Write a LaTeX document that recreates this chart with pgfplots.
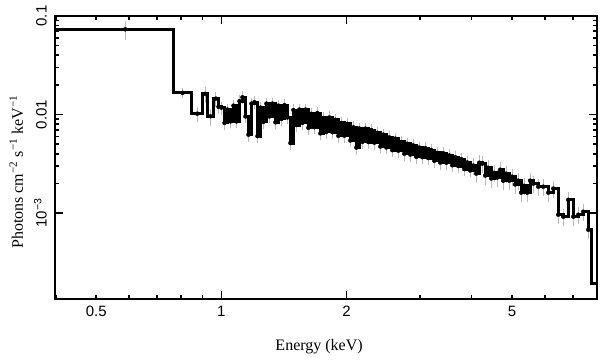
\documentclass[border=0pt]{standalone}
\usepackage{fontspec}
\setmainfont{Liberation Serif}
\newfontfamily\ticksans{Liberation Sans}
\usepackage{pgfplots}
\pgfplotsset{compat=1.18}
\usepackage{pgfplotstable}

\pgfplotstableread{
E F
0.35 0.0733
0.767 0.0166
0.849 0.0102
0.901 0.0162
0.928 0.0096
0.957 0.0145
0.984 0.0120
1.0005 0.01175
1.0172 0.00822
1.0343 0.01122
1.0516 0.00851
1.0692 0.0123
1.0871 0.00851
1.1053 0.01365
1.1238 0.01496
1.1426 0.00955
1.1617 0.00624
1.1812 0.0129
1.2010 0.01334
1.2211 0.00603
1.2415 0.01175
1.2623 0.00841
1.2834 0.0129
1.3049 0.00955
1.3267 0.0129
1.3489 0.00832
1.3715 0.0123
1.3945 0.00902
1.4178 0.01245
1.4416 0.00933
1.4657 0.00513
1.4902 0.0111
1.5152 0.00782
1.5405 0.01122
1.5663 0.00822
1.5925 0.01122
1.6192 0.00733
1.6463 0.01016
1.6738 0.00743
1.7018 0.01035
1.7303 0.00643
1.7593 0.00923
1.7887 0.00665
1.8187 0.00933
1.8491 0.00661
1.8800 0.00885
1.9115 0.00608
1.9435 0.0082
1.9760 0.0061
2.0091 0.00804
2.0427 0.00545
2.0769 0.00741
2.1117 0.00461
2.1470 0.00721
2.1830 0.00528
2.2195 0.00719
2.2566 0.00525
2.2944 0.00695
2.3328 0.00518
2.3718 0.00653
2.4115 0.00473
2.4519 0.00625
2.4929 0.00463
2.5347 0.00585
2.5771 0.00434
2.6202 0.00569
2.6641 0.00429
2.7087 0.00526
2.7540 0.0040
2.8001 0.00505
2.8470 0.00392
2.8946 0.00486
2.9431 0.00372
2.9923 0.00462
3.0424 0.00369
3.0933 0.00455
3.1451 0.00361
3.1978 0.00436
3.2513 0.00339
3.3057 0.00408
3.3610 0.00325
3.4173 0.00404
3.4745 0.00324
3.5326 0.00384
3.5918 0.00305
3.6519 0.00368
3.7130 0.0030
3.7752 0.00352
3.8384 0.00279
3.9026 0.00326
3.9679 0.0027
4.0343 0.00303
4.1018 0.00251
4.1705 0.00324
4.2403 0.00317
4.3113 0.0024
4.3835 0.00288
4.4568 0.00224
4.5314 0.00256
4.6073 0.00229
4.6844 0.00275
4.7628 0.00213
4.8425 0.00251
4.9236 0.00213
5.0060 0.00234
5.0898 0.00195
5.1750 0.00213
5.2616 0.00161
5.3497 0.00189
5.4393 0.00161
5.5303 0.00213
5.625 0.00199
5.783 0.00185
5.946 0.00185
6.113 0.00161
6.285 0.00177
6.461 0.000961
6.643 0.000917
6.829 0.00136
7.021 0.000917
7.218 0.000961
7.421 0.00103
7.630 0.000676
7.77 0.000191
8.1 0.000191
}\spec

\begin{document}
\begin{tikzpicture}
\begin{axis}[
  scale only axis, width=542.3bp, height=283.3bp,
  xmode=log, ymode=log,
  xmin=0.398, xmax=8.02, ymin=1.33e-4, ymax=0.1,
  axis line style={line width=2bp},
  every tick/.style={black, line width=1.6bp},
  major tick length=8bp, minor tick length=4bp,
  tick align=inside,
  xtick={1,2}, xticklabels={1,2},
  extra x ticks={0.5,5}, extra x tick labels={0.5,5},
  extra x tick style={major tick length=4bp},
  minor xtick={0.4,0.6,0.7,0.8,0.9,3,4,6,7,8},
  ytick={0.001,0.01,0.1}, yticklabels={10\textsuperscript{−3},0.01,0.1},
  /pgf/number format/assume math mode=true,
  tick label style={font=\ticksans\fontsize{15bp}{18bp}\selectfont, inner sep=0pt},
  xticklabel shift=7bp,
  yticklabel style={rotate=90, anchor=south},
  yticklabel shift=8bp,
  xlabel={Energy (keV)},
  ylabel={Photons cm\textsuperscript{−2} s\textsuperscript{−1} keV\textsuperscript{−1}},
  label style={font=\fontsize{16bp}{19bp}\selectfont},
  xlabel style={at={(axis description cs:0.487,-0.179)}, anchor=base},
  ylabel style={at={(axis description cs:-0.059,0.449)}, anchor=base},
]
% error bars (drawn first, behind the line)
\addplot[only marks, mark=none, forget plot,
  error bars/.cd, y dir=both, y explicit, error mark=none,
  error bar style={draw=gray!55, solid, line width=0.8bp}]
  coordinates {
  (0.587,0.0733) +- (0,0.016)
  (0.807,0.0166) +- (0,0.002)
  (0.875,0.0102) +- (0,0.0018)
  (0.914,0.0162) +- (0,0.003)
  (0.942,0.0096) +- (0,0.0019)
  (0.970,0.0145) +- (0,0.0025)
  };
\addplot[only marks, mark=none, forget plot,
  skip coords between index={0}{6},
  skip coords between index={91}{125},
  error bars/.cd, y dir=both, y fixed relative=0.15, error mark=none,
  error bar style={draw=gray!55, solid, line width=0.8bp}]
  table {\spec};
\addplot[only marks, mark=none, forget plot,
  skip coords between index={0}{91},
  skip coords between index={123}{125},
  error bars/.cd, y dir=both, y fixed relative=0.2, error mark=none,
  error bar style={draw=gray!55, solid, line width=0.8bp}]
  table {\spec};
% spectrum
\addplot[const plot, black, line width=3bp, mark=none] table {\spec};
\end{axis}
\pgfresetboundingbox
\path[use as bounding box] ([xshift=-55bp,yshift=-62.7bp]current axis.south west) rectangle ([xshift=11.7bp,yshift=16bp]current axis.north east);
\end{tikzpicture}
\end{document}
